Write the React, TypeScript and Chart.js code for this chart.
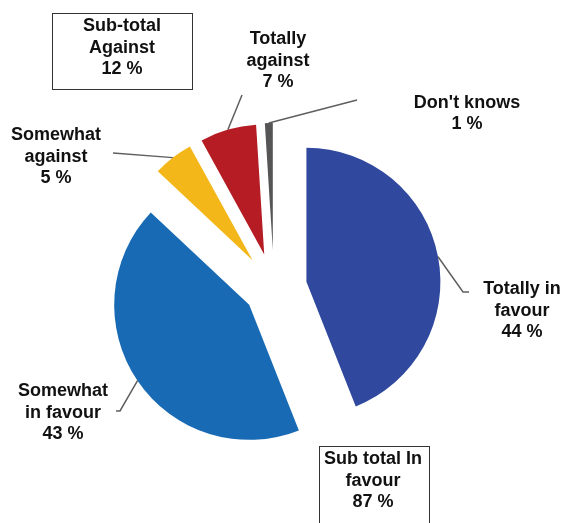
import React, { useEffect, useRef } from "react";
import { Chart, registerables } from "chart.js";

Chart.register(...registerables);

// ---- data ----
const categories = ["Totally in favour", "Somewhat in favour", "Somewhat against", "Totally against", "Don't knows"];
const values = [44, 43, 5, 7, 1];
const labelLines = [["Totally in", "favour"], ["Somewhat", "in favour"], ["Somewhat", "against"], ["Totally", "against"], ["Don't knows"]];
const subtotalAgainstLines = ["Sub-total", "Against"];
const subtotalFavourLines = ["Sub total In", "favour"];

// ---- styles ----
const colors = ["#30499E", "#176AB3", "#F4B71A", "#B51C24", "#555555"];
const explode = [33, 30, 35, 35, 38];
const radii = [134, 135, 130, 130, 127];
// label centre x / top y
const labelPos = [
  { cx: 522, top: 278 },
  { cx: 63, top: 380 },
  { cx: 56, top: 124 },
  { cx: 278, top: 28 },
  { cx: 467, top: 91.5 },
];
// leader line end points (label side)
const leaderEnds: number[][][] = [
  [[463, 292], [469, 292]],
  [[120, 411], [116, 411]],
  [[113, 153]],
  [[242, 95]],
  [[357, 100]],
];

const FONT = '"Liberation Sans", Arial, Helvetica, sans-serif';

const explodePlugin = {
  id: "explodeSlices",
  afterDatasetUpdate(chart: any, args: any) {
    const meta = chart.getDatasetMeta(args.index);
    meta.data.forEach((el: any, i: number) => {
      const mid = (el.startAngle + el.endAngle) / 2;
      el.x += Math.cos(mid) * explode[i];
      el.y += Math.sin(mid) * explode[i];
      el.outerRadius = radii[i];
    });
  },
  afterDatasetsDraw(chart: any) {
    const ctx = chart.ctx;
    const meta = chart.getDatasetMeta(0);
    ctx.save();
    ctx.strokeStyle = "#5f5f5f";
    ctx.lineWidth = 1.5;
    meta.data.forEach((el: any, i: number) => {
      const mid = (el.startAngle + el.endAngle) / 2;
      const sx = el.x + Math.cos(mid) * el.outerRadius;
      const sy = el.y + Math.sin(mid) * el.outerRadius;
      ctx.beginPath();
      ctx.moveTo(sx, sy);
      leaderEnds[i].forEach((p) => ctx.lineTo(p[0], p[1]));
      ctx.stroke();
    });
    ctx.restore();
  },
};

function Label({ cx, top, lines }: { cx: number; top: number; lines: string[] }) {
  return (
    <div
      style={{
        position: "absolute",
        left: cx - 100,
        top,
        width: 200,
        textAlign: "center",
        fontFamily: FONT,
        fontWeight: "bold",
        fontSize: 18,
        lineHeight: "21.5px",
        color: "#111",
        whiteSpace: "nowrap",
      }}
    >
      {lines.map((l, i) => (
        <div key={i}>{l}</div>
      ))}
    </div>
  );
}

export default function App() {
  const ref = useRef<HTMLCanvasElement | null>(null);

  useEffect(() => {
    if (!ref.current) return;
    const chart = new Chart(ref.current, {
      type: "pie",
      data: {
        labels: categories,
        datasets: [
          {
            data: values,
            backgroundColor: colors,
            borderWidth: 0,
            clip: false as any,
          },
        ],
      },
      options: {
        responsive: false,
        animation: false,
        events: [],
        radius: 133,
        layout: { padding: { left: 0, right: 17, top: 53, bottom: 0 } },
        plugins: {
          legend: { display: false },
          tooltip: { enabled: false },
          title: { display: false },
        },
      } as any,
      plugins: [explodePlugin],
    });
    return () => chart.destroy();
  }, []);

  const against = values[2] + values[3];
  const favour = values[0] + values[1];

  return (
    <div
      style={{
        position: "absolute",
        left: 0,
        top: 0,
        width: 565,
        height: 523,
        overflow: "hidden",
        background: "#fff",
      }}
    >
      <canvas ref={ref} width={565} height={523} style={{ position: "absolute", left: 0, top: 0, width: 565, height: 523 }} />
      {labelPos.map((p, i) => (
        <Label key={i} cx={p.cx} top={p.top} lines={[...labelLines[i], `${values[i]} %`]} />
      ))}
      <div
        style={{
          position: "absolute",
          left: 52,
          top: 13,
          width: 139,
          height: 75,
          border: "1px solid #333",
          background: "#fff",
        }}
      />
      <Label cx={122} top={15} lines={[...subtotalAgainstLines, `${against} %`]} />
      <div
        style={{
          position: "absolute",
          left: 319,
          top: 446,
          width: 109,
          height: 100,
          border: "1px solid #333",
          background: "#fff",
        }}
      />
      <Label cx={373} top={448} lines={[...subtotalFavourLines, `${favour} %`]} />
    </div>
  );
}
